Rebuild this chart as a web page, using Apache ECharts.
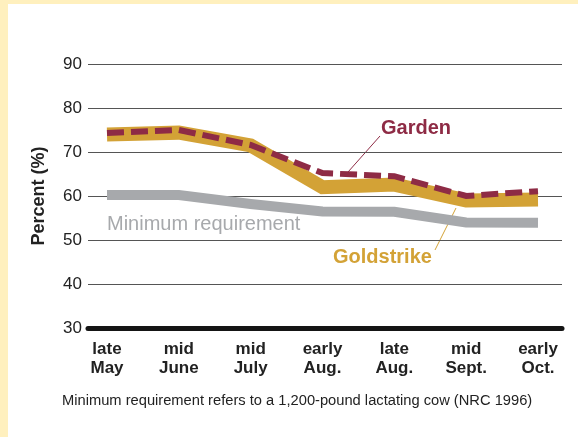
<!DOCTYPE html>
<html>
<head>
<meta charset="utf-8">
<script src="https://cdn.jsdelivr.net/npm/echarts@6/dist/echarts.min.js"></script>
<style>
  html, body { margin: 0; padding: 0; background: #fff0be; }
  #chart { position: absolute; left: 8px; top: 4px; width: 570px; height: 433px; background: #fff; }
</style>
</head>
<body>
<div id="chart"></div>
<script>
// periods along the season
const periods = ['late\nMay', 'mid\nJune', 'mid\nJuly', 'early\nAug.', 'late\nAug.', 'mid\nSept.', 'early\nOct.']

// percent values
const goldstrike = [74.0, 74.4, 71.5, 62.0, 62.6, 59.0, 59.2]
const garden = [74.3, 75.0, 71.6, 65.2, 64.5, 60.0, 61.1]
const minimum = [60.2, 60.2, 58.2, 56.5, 56.4, 54.0, 53.9]

const yTicks = { min: 30, max: 90, interval: 10 }

const font = 'Arial, "Liberation Sans", sans-serif'
const gold = '#d3a236'
const maroon = '#8e2b45'
const grey = '#a7a9ac'

const chart = echarts.init(document.getElementById('chart'))

// chart div sits at (8,4), so page coords are shifted by that
const option = {
  animation: false,
  textStyle: { fontFamily: font },
  grid: [
    { left: 80, right: 16, top: 60, bottom: 109 },   // gridlines
    { left: 99, right: 40, top: 60, bottom: 109 }    // data
  ],
  xAxis: [
    {
      gridIndex: 0, type: 'value', min: 0, max: 1,
      axisLine: { show: true, lineStyle: { color: '#151515', width: 5 } },
      axisTick: { show: false }, axisLabel: { show: false }, splitLine: { show: false }
    },
    {
      gridIndex: 1, type: 'category', data: periods, boundaryGap: false,
      axisLine: { show: false }, axisTick: { show: false }, splitLine: { show: false },
      axisLabel: {
        interval: 0, margin: 12, color: '#222', fontSize: 17, fontWeight: 'bold',
        lineHeight: 19, fontFamily: font
      }
    }
  ],
  yAxis: [
    {
      gridIndex: 0, type: 'value', min: yTicks.min, max: yTicks.max, interval: yTicks.interval,
      name: 'Percent (%)', nameLocation: 'middle', nameGap: 40,
      nameTextStyle: { color: '#222', fontSize: 18, fontWeight: 'bold', fontFamily: font },
      axisLine: { show: false }, axisTick: { show: false },
      axisLabel: { color: '#222', fontSize: 17, margin: 6, fontFamily: font },
      splitLine: { lineStyle: { color: '#555', width: 1 } }
    },
    {
      gridIndex: 1, type: 'value', min: yTicks.min, max: yTicks.max, interval: yTicks.interval,
      show: false
    }
  ],
  series: [
    {
      name: 'Minimum requirement', type: 'line', xAxisIndex: 1, yAxisIndex: 1,
      data: minimum, showSymbol: false,
      lineStyle: { color: grey, width: 10, join: 'miter' }
    },
    {
      name: 'Goldstrike', type: 'line', xAxisIndex: 1, yAxisIndex: 1,
      data: goldstrike, showSymbol: false,
      lineStyle: { color: gold, width: 14, join: 'miter' }
    },
    {
      name: 'Garden', type: 'line', xAxisIndex: 1, yAxisIndex: 1,
      data: garden, showSymbol: false,
      lineStyle: { color: maroon, width: 6, type: [17, 7], join: 'miter' }
    }
  ],
  graphic: [
    {
      type: 'text', left: 373, top: 114,
      style: { text: 'Garden', fill: maroon, font: 'bold 20px ' + font }
    },
    {
      type: 'line', shape: { x1: 372, y1: 132, x2: 340, y2: 168 },
      style: { stroke: maroon, lineWidth: 1 }
    },
    {
      type: 'text', left: 325, top: 243,
      style: { text: 'Goldstrike', fill: gold, font: 'bold 20px ' + font }
    },
    {
      type: 'line', shape: { x1: 427, y1: 246, x2: 448, y2: 204 },
      style: { stroke: gold, lineWidth: 1 }
    },
    {
      type: 'text', left: 99, top: 210,
      style: { text: 'Minimum requirement', fill: grey, font: '20px ' + font }
    },
    {
      type: 'text', left: 54, top: 389,
      style: { text: 'Minimum requirement refers to a 1,200-pound lactating cow (NRC 1996)', fill: '#222', font: '14.7px ' + font }
    }
  ]
}

chart.setOption(option)
</script>
</body>
</html>
